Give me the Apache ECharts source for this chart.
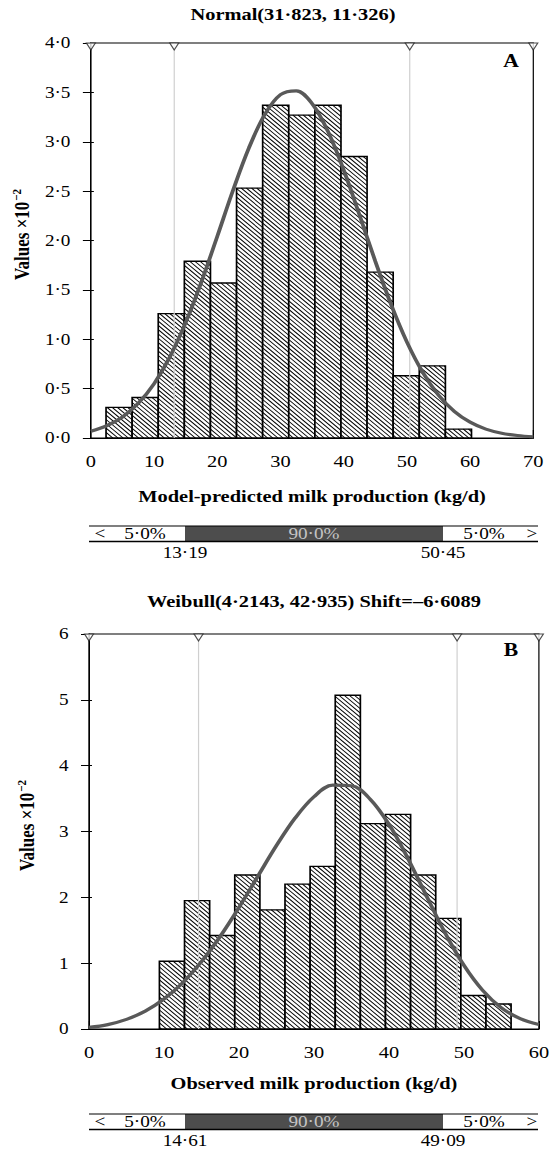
<!DOCTYPE html>
<html>
<head>
<meta charset="utf-8">
<title>Milk production distributions</title>
<script src="https://cdn.jsdelivr.net/npm/echarts@6.0.0/dist/echarts.min.js"></script>
<style>
html,body{margin:0;padding:0;background:#fff;overflow:hidden;}
#wrap{width:555px;height:1150px;overflow:hidden;position:relative;background:#fff;}
#chart{position:absolute;left:0;top:0;width:462.5px;height:1150px;transform:scaleX(1.2);transform-origin:0 0;}
</style>
</head>
<body>
<div id="wrap"><div id="chart"></div></div>
<script>
// ---------------- data ----------------
// Panel A : model-predicted milk production, fitted Normal(31.823, 11.326)
const titleA = 'Normal(31·823, 11·326)';
const xNameA = 'Model-predicted milk production (kg/d)';
const binEdgesA = [2.40, 6.53, 10.66, 14.79, 18.92, 23.05, 27.18, 31.31, 35.44, 39.57, 43.70, 47.83, 51.96, 56.09, 60.22];
const freqA = [0.31, 0.41, 1.26, 1.79, 1.57, 2.53, 3.37, 3.27, 3.37, 2.85, 1.68, 0.63, 0.73, 0.09];
const curveXA = [0, 2.5, 5, 7.5, 10, 12.5, 15, 17.5, 20, 22.5, 25, 27.5, 30, 32.5, 35, 37.5, 40, 42.5, 45, 47.5, 50, 52.5, 55, 57.5, 60, 62.5, 65, 67.5, 70];
const curveYA = [0.068, 0.124, 0.213, 0.351, 0.550, 0.822, 1.169, 1.583, 2.042, 2.510, 2.937, 3.275, 3.477, 3.516, 3.386, 3.106, 2.714, 2.259, 1.790, 1.351, 0.972, 0.666, 0.434, 0.270, 0.160, 0.090, 0.048, 0.025, 0.012];
const percentA = [13.19, 50.45];
const xRangeA = [0, 70];
const xTicksA = ['0', '10', '20', '30', '40', '50', '60', '70'];
const yTicksA = ['0·0', '0·5', '1·0', '1·5', '2·0', '2·5', '3·0', '3·5', '4·0'];

// Panel B : observed milk production, fitted Weibull(4.2143, 42.935) shift -6.6089
const titleB = 'Weibull(4·2143, 42·935) Shift=–6·6089';
const xNameB = 'Observed milk production (kg/d)';
const binEdgesB = [9.39, 12.74, 16.09, 19.44, 22.79, 26.14, 29.49, 32.84, 36.19, 39.54, 42.89, 46.24, 49.59, 52.94, 56.29];
const freqB = [1.03, 1.95, 1.42, 2.34, 1.81, 2.20, 2.47, 5.07, 3.12, 3.26, 2.34, 1.68, 0.51, 0.38];
const curveXB = [0, 2.5, 5, 7.5, 10, 12.5, 15, 17.5, 20, 22.5, 25, 27.5, 30, 32.5, 35, 37.5, 40, 42.5, 45, 47.5, 50, 52.5, 55, 57.5, 60];
const curveYB = [0.024, 0.067, 0.146, 0.272, 0.455, 0.704, 1.022, 1.407, 1.846, 2.317, 2.786, 3.206, 3.528, 3.703, 3.695, 3.491, 3.109, 2.597, 2.022, 1.457, 0.967, 0.586, 0.321, 0.158, 0.069];
const percentB = [14.61, 49.09];
const xRangeB = [0, 60];
const xTicksB = ['0', '10', '20', '30', '40', '50', '60'];
const yTicksB = ['0', '1', '2', '3', '4', '5', '6'];

const yName = 'Values ×10';
const yNameExp = '−2';
const bandPct = [5.0, 90.0, 5.0];

// ---------------- helpers ----------------
const SX = 1.2;                       // the reference figure is stretched horizontally
const ux = v => v / SX;               // screen px -> chart px (x only)
const FONT = "'Liberation Serif','Times New Roman',serif";
const dot = (v, d) => v.toFixed(d).replace('.', '·');
const CURVE = '#595959';

function xAxisCfg(grid, range, ticks, name, gap) {
  return {
    gridIndex: grid, type: 'value', min: range[0], max: range[1], interval: 10,
    axisLine: { show: true, onZero: false, lineStyle: { color: '#000', width: 1 } },
    axisTick: { show: true, inside: true, length: 8, lineStyle: { color: '#000', width: 1 } },
    axisLabel: { show: true, margin: 15, color: '#000', fontFamily: FONT, fontSize: 17,
      formatter: v => ticks[Math.round((v - range[0]) / 10)] },
    splitLine: { show: false },
    name: name, nameLocation: 'middle', nameGap: gap,
    nameTextStyle: { color: '#000', fontFamily: FONT, fontSize: 17, fontWeight: 'bold' }
  };
}
function yAxisCfg(grid, max, step, ticks) {
  return {
    gridIndex: grid, type: 'value', position: 'left', min: 0, max: max, interval: step,
    axisLine: { show: true, lineStyle: { color: '#000', width: 1 } },
    axisTick: { show: true, inside: false, length: ux(8), lineStyle: { color: '#000', width: 1 } },
    axisLabel: { show: true, margin: 17, color: '#000', fontFamily: FONT, fontSize: 16,
      formatter: v => ticks[Math.round(v / step)] },
    splitLine: { show: false },
    name: '{a|' + yName + '}{s|' + yNameExp + '}', nameLocation: 'middle', nameGap: 42,
    nameTextStyle: { color: '#000', fontFamily: FONT, fontSize: 17, fontWeight: 'bold',
      rich: {
        a: { color: '#000', fontFamily: FONT, fontSize: 17, fontWeight: 'bold', padding: [0, 0, 0, 12] },
        s: { color: '#000', fontFamily: FONT, fontSize: 11, fontWeight: 'bold', padding: [0, 0, 9, 1] }
      } }
  };
}
function yInnerTicks(grid, max, step) {
  return {
    gridIndex: grid, type: 'value', position: 'left', min: 0, max: max, interval: step,
    axisLine: { show: false },
    axisTick: { show: true, inside: true, length: ux(3), lineStyle: { color: '#000', width: 1 } },
    axisLabel: { show: false }, splitLine: { show: false }
  };
}

const HATCH = 4.3;
function barSeries(xi, yi, edges, vals) {
  return {
    type: 'custom', xAxisIndex: xi, yAxisIndex: yi, z: 2, clip: false,
    data: vals.map((v, i) => [edges[i], edges[i + 1], v]),
    encode: { x: [0, 1], y: 2 },
    renderItem: function (params, api) {
      const p0 = api.coord([api.value(0), api.value(2)]);
      const p1 = api.coord([api.value(1), 0]);
      const x0 = p0[0], y0 = p0[1], x1 = p1[0], y1 = p1[1];
      const kids = [{ type: 'rect', shape: { x: x0, y: y0, width: x1 - x0, height: y1 - y0 },
        style: { fill: '#fff' } }];
      const cStart = Math.ceil((y0 - x1) / HATCH) * HATCH;
      for (let c = cStart; c <= y1 - x0; c += HATCH) {
        const xa = Math.max(x0, y0 - c), xb = Math.min(x1, y1 - c);
        if (xb - xa > 0.2) {
          kids.push({ type: 'line', shape: { x1: xa, y1: xa + c, x2: xb, y2: xb + c },
            style: { stroke: '#000', lineWidth: 0.9 } });
        }
      }
      kids.push({ type: 'rect', shape: { x: x0, y: y0, width: x1 - x0, height: y1 - y0 },
        style: { fill: 'transparent', stroke: '#000', lineWidth: 1.4 } });
      return { type: 'group', children: kids };
    }
  };
}
function percentLines(xi, yi, pcts, ymax) {
  return {
    type: 'custom', xAxisIndex: xi, yAxisIndex: yi, z: 3, clip: false,
    data: pcts.map(v => [v]), encode: { x: 0 },
    renderItem: function (params, api) {
      const a = api.coord([api.value(0), 0]);
      const b = api.coord([api.value(0), ymax]);
      return { type: 'line', shape: { x1: a[0], y1: a[1], x2: b[0], y2: b[1] },
        style: { stroke: '#cfcfcf', lineWidth: 1 } };
    }
  };
}
function curveSeries(xi, yi, xs, ys) {
  return {
    type: 'line', xAxisIndex: xi, yAxisIndex: yi, z: 4, smooth: 0.35,
    showSymbol: false, symbol: 'none', silent: true, clip: true,
    data: xs.map((x, i) => [x, ys[i]]),
    lineStyle: { color: CURVE, width: 3.2 }
  };
}
function markers(xi, yi, range, pcts, ymax) {
  return {
    type: 'scatter', xAxisIndex: xi, yAxisIndex: yi, z: 6, clip: false, silent: true,
    data: [range[0], pcts[0], pcts[1], range[1]].map(v => [v, ymax]),
    symbol: 'triangle', symbolRotate: 180, symbolSize: [ux(9), 7], symbolOffset: [0, 3.5],
    itemStyle: { color: '#fff', borderColor: '#222', borderWidth: 1 }
  };
}
function txt(x, y, s, font, fill, align) {
  return { type: 'text', x: ux(x), y: y, silent: true,
    style: { text: s, font: font, fill: fill || '#000', textAlign: align || 'center', align: align || 'center',
      textVerticalAlign: 'middle', verticalAlign: 'middle' } };
}
function band(yTop, pcts) {
  const L = 89, R = 538, D0 = 185, D1 = 443, h = 15;
  const f = '16px ' + FONT;
  const mid = yTop + h / 2 + 0.5;
  return [
    { type: 'rect', silent: true, shape: { x: ux(D0), y: yTop, width: ux(D1 - D0), height: h }, style: { fill: '#4d4d4d' } },
    { type: 'line', silent: true, shape: { x1: ux(L), y1: yTop, x2: ux(R), y2: yTop }, style: { stroke: '#000', lineWidth: 1 } },
    { type: 'line', silent: true, shape: { x1: ux(L), y1: yTop + h + 0.6, x2: ux(R), y2: yTop + h + 0.6 }, style: { stroke: '#000', lineWidth: 1.5 } },
    txt(100, mid, '<', f),
    txt(145, mid, dot(bandPct[0], 1) + '%', f),
    txt((D0 + D1) / 2, mid, dot(bandPct[1], 1) + '%', f, '#c4c4c4'),
    txt(484, mid, dot(bandPct[2], 1) + '%', f),
    txt(532, mid, '>', f),
    txt(D0, yTop + h + 12, dot(pcts[0], 2), f),
    txt(D1, yTop + h + 12, dot(pcts[1], 2), f)
  ];
}

const chart = echarts.init(document.getElementById('chart'), null, { renderer: 'svg' });
const gridStyle = { show: true, borderColor: '#000', borderWidth: 1, backgroundColor: 'transparent', containLabel: false };

chart.setOption({
  animation: false,
  backgroundColor: '#fff',
  grid: [
    Object.assign({ left: ux(89.3), right: ux(22.3), top: 43, height: 395 }, gridStyle),
    Object.assign({ left: ux(89), right: ux(16.7), top: 634, height: 395 }, gridStyle)
  ],
  xAxis: [
    xAxisCfg(0, xRangeA, xTicksA, xNameA, 50),
    xAxisCfg(1, xRangeB, xTicksB, xNameB, 46)
  ],
  yAxis: [
    yAxisCfg(0, 4, 0.5, yTicksA),
    yInnerTicks(0, 4, 0.5),
    yAxisCfg(1, 6, 1, yTicksB),
    yInnerTicks(1, 6, 1)
  ],
  series: [
    barSeries(0, 0, binEdgesA, freqA),
    percentLines(0, 0, percentA, 4),
    curveSeries(0, 0, curveXA, curveYA),
    markers(0, 0, xRangeA, percentA, 4),
    barSeries(1, 2, binEdgesB, freqB),
    percentLines(1, 2, percentB, 6),
    curveSeries(1, 2, curveXB, curveYB),
    markers(1, 2, xRangeB, percentB, 6)
  ],
  graphic: [
    txt(293, 14, titleA, 'bold 17px ' + FONT),
    txt(314, 601, titleB, 'bold 17px ' + FONT),
    txt(511, 61, 'A', 'bold 18px ' + FONT),
    txt(511, 650, 'B', 'bold 18px ' + FONT)
  ].concat(band(526, percentA)).concat(band(1114, percentB))
});
</script>
</body>
</html>
